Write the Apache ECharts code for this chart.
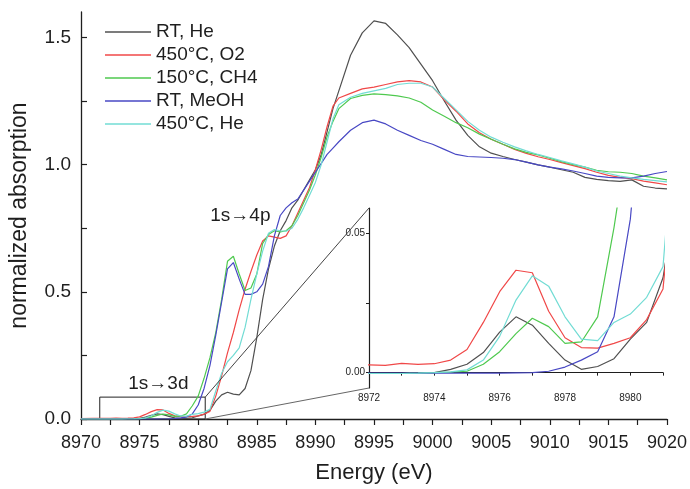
<!DOCTYPE html>
<html><head><meta charset="utf-8">
<script src="https://cdn.jsdelivr.net/npm/echarts@6/dist/echarts.min.js"></script>
<style>html,body{margin:0;padding:0;background:#fff}#c{width:690px;height:489px}</style>
</head><body><div id="c"></div>
<script>
const energy = [
  8970, 8971,
  8972, 8972.5, 8973, 8973.5, 8974, 8974.5, 8975, 8975.5, 8976, 8976.5,
  8977, 8977.5, 8978, 8978.5, 8979, 8979.5, 8980, 8980.5, 8981, 8981.5,
  8982, 8982.5, 8983, 8983.5, 8984, 8984.5, 8985, 8985.5, 8986, 8986.5,
  8987, 8987.5, 8988, 8988.5, 8989, 8989.5, 8990, 8990.5, 8991, 8991.5,
  8992, 8993, 8994, 8995, 8996, 8997, 8998, 8999, 9000, 9001,
  9002, 9003, 9004, 9005, 9006, 9007, 9008, 9009, 9010, 9011,
  9012, 9013, 9014, 9015, 9016, 9017, 9018, 9019, 9020
];
const rtHe = [
  0, 0,
  -0.0003, -0.0003, -0.0003, -0.0002, 0, 0.0012, 0.003, 0.0072, 0.0145, 0.02,
  0.017, 0.0105, 0.0045, 0.0012, 0.0022, 0.005, 0.012, 0.018, 0.034, 0.07,
  0.095, 0.105, 0.098, 0.095, 0.12, 0.19, 0.32, 0.47, 0.59, 0.68,
  0.74, 0.78, 0.83, 0.86, 0.9, 0.94, 0.98, 1.04, 1.13, 1.22,
  1.29, 1.43, 1.518, 1.565, 1.555, 1.51, 1.46, 1.395, 1.33, 1.25,
  1.175, 1.115, 1.07, 1.045, 1.032, 1.02, 1.01, 0.999, 0.99, 0.98,
  0.97, 0.95, 0.942, 0.937, 0.934, 0.94, 0.915, 0.908, 0.905
];
const o2450 = [
  0.002, 0.0025,
  0.0028, 0.0026, 0.0033, 0.003, 0.0032, 0.0045, 0.0083, 0.018, 0.029, 0.0367,
  0.0358, 0.022, 0.0125, 0.009, 0.0088, 0.0105, 0.0125, 0.019, 0.03, 0.09,
  0.17, 0.26, 0.34, 0.43, 0.51, 0.58, 0.645, 0.70, 0.72, 0.715,
  0.71, 0.72, 0.76, 0.81, 0.86, 0.91, 0.98, 1.06, 1.15, 1.23,
  1.262, 1.28, 1.298, 1.305, 1.315, 1.325, 1.33, 1.325, 1.305, 1.255,
  1.21, 1.16, 1.125, 1.1, 1.08, 1.06, 1.044, 1.031, 1.02, 1.008,
  0.996, 0.984, 0.97, 0.958, 0.95, 0.945, 0.935, 0.928, 0.921
];
const ch4150 = [
  -0.0003, -0.0003,
  -0.0003, -0.0003, -0.0003, -0.0002, 0, 0.0002, 0.0005, 0.003, 0.0075, 0.014,
  0.0195, 0.0165, 0.0105, 0.011, 0.02, 0.052, 0.09, 0.16, 0.24, 0.34,
  0.47, 0.62, 0.64, 0.57, 0.505, 0.515, 0.57, 0.69, 0.725, 0.74,
  0.735, 0.74, 0.76, 0.8, 0.85, 0.9, 0.96, 1.03, 1.11, 1.17,
  1.22, 1.26, 1.272, 1.278, 1.275, 1.27, 1.262, 1.245, 1.215, 1.19,
  1.165, 1.145, 1.12, 1.1, 1.08, 1.062, 1.048, 1.038, 1.025, 1.012,
  1.0, 0.99, 0.978, 0.972, 0.97, 0.965, 0.955, 0.948, 0.94
];
const meohRT = [
  -0.0002, -0.0002,
  -0.0002, -0.0002, -0.0002, -0.0002, -0.0002, -0.0002, -0.0002, -0.0002, -0.0002, -0.0001,
  0, 0.0005, 0.002, 0.0045, 0.0075, 0.02, 0.055, 0.12, 0.21, 0.33,
  0.46, 0.59, 0.615, 0.55, 0.49, 0.49, 0.5, 0.53, 0.6, 0.72,
  0.8, 0.83, 0.85, 0.865, 0.9, 0.935, 0.97, 1.005, 1.04, 1.065,
  1.09, 1.135, 1.165, 1.175, 1.16, 1.135, 1.115, 1.095, 1.08, 1.06,
  1.04, 1.032, 1.03, 1.028, 1.025, 1.02, 1.01, 0.999, 0.99, 0.983,
  0.975, 0.965, 0.955, 0.95, 0.948, 0.948, 0.955, 0.965, 0.973
];
const he450 = [
  -0.0003, -0.0003,
  -0.0003, -0.0003, -0.0003, -0.0002, 0, 0.0003, 0.001, 0.0045, 0.013, 0.026,
  0.0347, 0.031, 0.02, 0.012, 0.0115, 0.018, 0.021, 0.027, 0.038, 0.11,
  0.18, 0.225, 0.25, 0.28, 0.36, 0.47, 0.57, 0.66, 0.73, 0.745,
  0.74, 0.738, 0.75, 0.785, 0.83, 0.88, 0.93, 1.0, 1.09, 1.18,
  1.235, 1.265, 1.28, 1.29, 1.3, 1.315, 1.32, 1.32, 1.305, 1.26,
  1.215, 1.17, 1.135, 1.108, 1.088, 1.07, 1.054, 1.04, 1.028, 1.015,
  1.003, 0.99, 0.975, 0.965, 0.955, 0.948, 0.942, 0.937, 0.932
];
const seriesNames = ['RT, He', '450°C, O2', '150°C, CH4', 'RT, MeOH', '450°C, He'];
const seriesValues = [rtHe, o2450, ch4150, meohRT, he450];
const seriesColors = ['#505050', '#f04848', '#4fc94f', '#4848c4', '#72dcd4'];
const mainYTicks = [0, 0.5, 1.0, 1.5];
const mainYMinor = [0, 0.25, 0.5, 0.75, 1.0, 1.25, 1.5];
const insetXTicks = [8972, 8973, 8974, 8975, 8976, 8977, 8978, 8979, 8980, 8981];
const insetXLabels = [8972, 8974, 8976, 8978, 8980];
const insetYTicks = [0, 0.025, 0.05];
const insetYLabels = [0, 0.05];
const zoomBox = [8971.6, 8980.6, 0, 0.086];

const FONT = 'Liberation Sans, Arial, sans-serif';
const INK = '#1e1e1e';
const chart = echarts.init(document.getElementById('c'));

function pairs(vals) { return energy.map((e, i) => [e, vals[i]]); }

const series = [];
seriesNames.forEach((n, k) => {
  const s = {
    name: n, type: 'line', xAxisIndex: 0, yAxisIndex: 0,
    data: pairs(seriesValues[k]), symbol: 'none', animation: false,
    lineStyle: { color: seriesColors[k], width: 1.2 }, itemStyle: { color: seriesColors[k] }, z: 3
  };
  if (k === 0) {
    s.markArea = {
      silent: true,
      itemStyle: { color: 'rgba(0,0,0,0)', borderColor: '#222', borderWidth: 1 },
      data: [[{ coord: [zoomBox[0], zoomBox[2]] }, { coord: [zoomBox[1], zoomBox[3]] }]]
    };
  }
  series.push(s);
});
seriesNames.forEach((n, k) => {
  series.push({
    name: n, type: 'line', xAxisIndex: 1, yAxisIndex: 1, clip: true,
    data: pairs(seriesValues[k]), symbol: 'none', animation: false,
    lineStyle: { color: seriesColors[k], width: 1.2 }, itemStyle: { color: seriesColors[k] }, z: 3
  });
});

chart.setOption({
  animation: false,
  backgroundColor: '#fff',
  textStyle: { fontFamily: FONT },
  legend: {
    data: seriesNames, orient: 'vertical', left: 100, top: 17,
    icon: 'rect', itemWidth: 46, itemHeight: 1.6, itemGap: 3,
    textStyle: { fontFamily: FONT, fontSize: 19, color: INK, lineHeight: 20 }
  },
  grid: [
    { left: 80, right: 20, top: 12, bottom: 66 },
    { left: 369, right: 27, top: 208, bottom: 101 }
  ],
  xAxis: [
    {
      type: 'value', gridIndex: 0, min: 8970, max: 9020, interval: 5,
      name: 'Energy (eV)', nameLocation: 'middle', nameGap: 43,
      nameTextStyle: { fontFamily: FONT, fontSize: 22, color: INK },
      axisLine: { lineStyle: { color: INK, width: 1.3 } },
      axisTick: { length: 6, lineStyle: { color: INK, width: 1.2 } },
      minorTick: { show: true, splitNumber: 2, length: 6, lineStyle: { color: INK, width: 1.2 } },
      axisLabel: { fontFamily: FONT, fontSize: 18, color: INK, margin: 15, formatter: v => String(v) },
      splitLine: { show: false }
    },
    {
      type: 'value', gridIndex: 1, min: 8972, max: 8981, interval: 2,
      axisLine: { lineStyle: { color: INK, width: 1.2 } },
      axisTick: { length: 3, customValues: insetXTicks, lineStyle: { color: INK, width: 1 } },
      axisLabel: { fontFamily: FONT, fontSize: 10, color: INK, margin: 5, customValues: insetXLabels,
        formatter: v => String(v) },
      splitLine: { show: false }
    }
  ],
  yAxis: [
    {
      type: 'value', gridIndex: 0, min: 0, max: 1.6,
      name: 'normalized absorption', nameLocation: 'middle', nameGap: 50, nameRotate: 90,
      nameTextStyle: { fontFamily: FONT, fontSize: 23, color: INK },
      axisLine: { show: true, lineStyle: { color: INK, width: 1.3 } },
      axisTick: { show: true, inside: true, length: 6, customValues: mainYMinor, lineStyle: { color: INK, width: 1.2 } },
      axisLabel: { fontFamily: FONT, fontSize: 19, color: INK, margin: 10, customValues: mainYTicks,
        formatter: v => v.toFixed(1) },
      splitLine: { show: false }
    },
    {
      type: 'value', gridIndex: 1, min: -0.0055, max: 0.059,
      axisLine: { show: true, lineStyle: { color: INK, width: 1.2 } },
      axisTick: { show: true, length: 3, customValues: insetYTicks, lineStyle: { color: INK, width: 1 } },
      axisLabel: { fontFamily: FONT, fontSize: 10, color: INK, margin: 4, customValues: insetYLabels,
        formatter: v => v.toFixed(2) },
      splitLine: { show: false }
    }
  ],
  series: series
});

function drawExtras() {
  const a1 = chart.convertToPixel({ gridIndex: 0 }, [zoomBox[1], zoomBox[3]]);
  const a2 = chart.convertToPixel({ gridIndex: 0 }, [zoomBox[1], zoomBox[2]]);
  const b1 = chart.convertToPixel({ gridIndex: 1 }, [8972, 0.059]);
  const b2 = chart.convertToPixel({ gridIndex: 1 }, [8972, -0.0055]);
  const t4p = chart.convertToPixel({ gridIndex: 0 }, [8983.6, 0.80]);
  const t3d = chart.convertToPixel({ gridIndex: 0 }, [8976.6, 0.14]);
  chart.setOption({
    graphic: [
      { type: 'line', shape: { x1: a1[0], y1: a1[1], x2: b1[0], y2: b1[1] },
        style: { stroke: '#444', lineWidth: 1 }, z: 10 },
      { type: 'line', shape: { x1: a2[0], y1: a2[1], x2: b2[0], y2: b2[1] },
        style: { stroke: '#666', lineWidth: 1 }, z: 10 },
      { type: 'text', x: t4p[0], y: t4p[1],
        style: { text: '1s\u21924p', font: '19px ' + FONT, fill: INK, align: 'center', verticalAlign: 'middle' }, z: 10 },
      { type: 'text', x: t3d[0], y: t3d[1],
        style: { text: '1s\u21923d', font: '19px ' + FONT, fill: INK, align: 'center', verticalAlign: 'middle' }, z: 10 }
    ]
  });
}
drawExtras();
</script>
</body></html>
